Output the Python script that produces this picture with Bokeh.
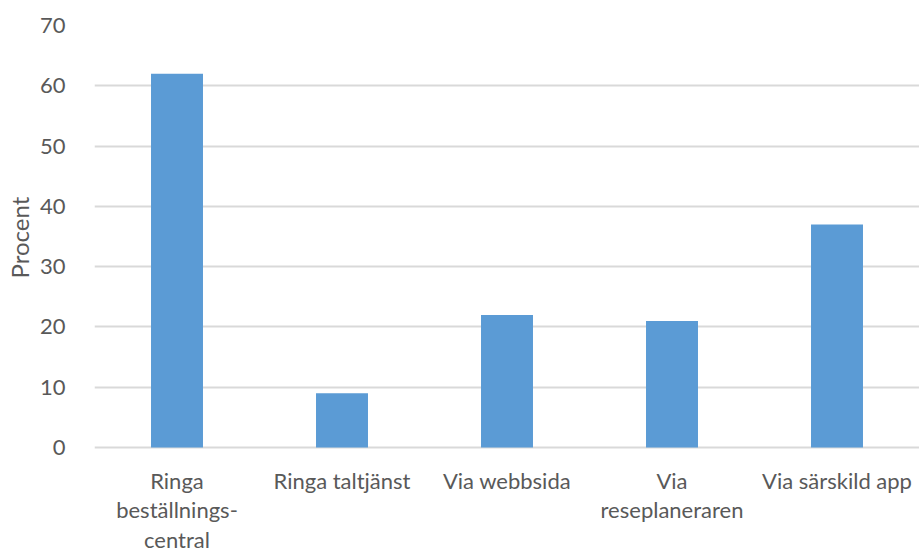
from bokeh.plotting import figure
from bokeh.models import FactorRange, FixedTicker, Range1d, Title
from bokeh.core.properties import value
from bokeh.embed import file_html
from bokeh.resources import INLINE

categories = ["Ringa beställnings-central", "Ringa taltjänst", "Via webbsida",
              "Via reseplaneraren", "Via särskild app"]
category_labels = ["Ringa\nbeställnings-\ncentral", "Ringa taltjänst", "Via webbsida",
                   "Via\nreseplaneraren", "Via särskild app"]
values = [62, 9, 22, 21, 37]
y_ticks = [0, 10, 20, 30, 40, 50, 60, 70]
y_max = 70

FONT = "Lato"
TXT = "#595959"

# frame spans whole lower part; area below 0 holds the category labels
p = figure(x_range=FactorRange(*categories, range_padding=0), y_range=Range1d(-17.25, y_max),
           width=919, height=551, output_backend="svg", toolbar_location=None,
           min_border_left=0, min_border_right=0, min_border_top=25, min_border_bottom=0)
p.vbar(x=categories, top=values, width=0.315, color="#5B9BD5", line_color=None)

p.text(x=categories, y=[0] * len(categories), text=category_labels,
       text_font=value(FONT), text_font_size="22px", text_color=TXT,
       text_align="center", text_baseline="top", y_offset=19, text_line_height=1.1)

p.xaxis.visible = False
p.outline_line_color = None
p.xgrid.grid_line_color = None
p.ygrid.grid_line_color = "#D9D9D9"
p.ygrid.grid_line_width = 2
p.yaxis.ticker = FixedTicker(ticks=y_ticks)
ax = p.yaxis
ax.axis_line_color = None
ax.major_tick_line_color = None
ax.minor_tick_line_color = None
ax.major_label_text_font = FONT
ax.major_label_text_font_size = "22px"
ax.major_label_text_color = TXT
ax.major_label_standoff = 23

p.add_layout(Title(text="Procent", align="left", offset=273, standoff=5,
                   text_font=FONT, text_font_size="24px", text_font_style="normal",
                   text_color=TXT), "left")

open("out.html", "w").write(file_html(p, INLINE))
